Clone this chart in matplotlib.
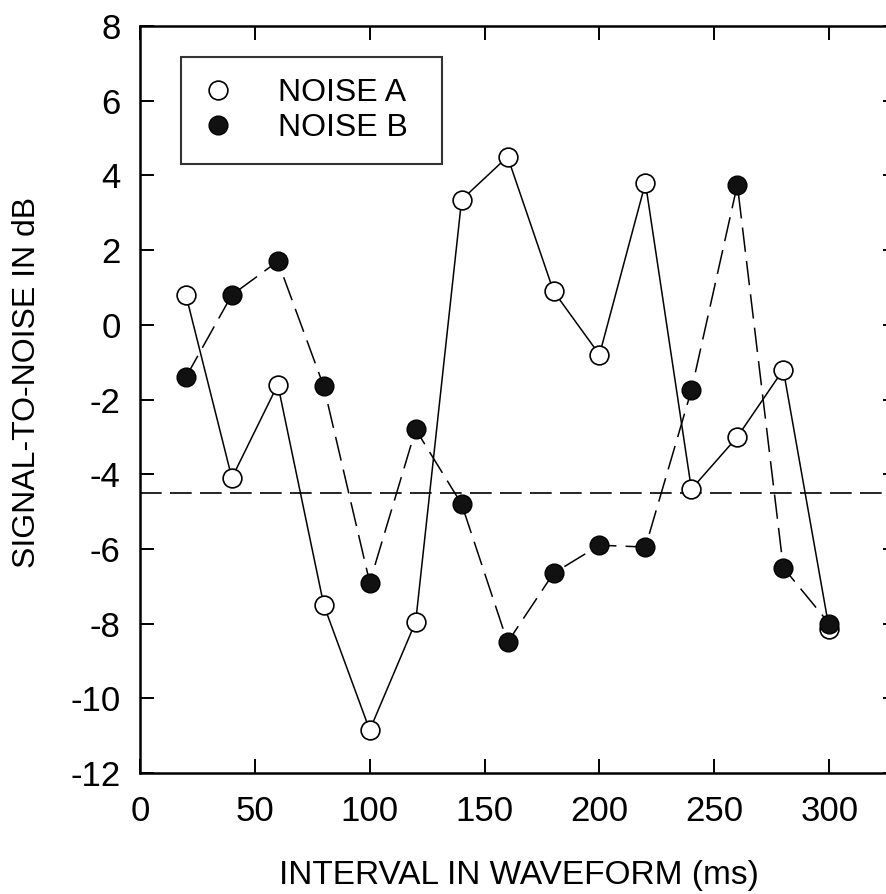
import matplotlib
matplotlib.use("Agg")
import matplotlib.pyplot as plt

# interval positions (ms) and SNR values (dB)
interval = [20, 40, 60, 80, 100, 120, 140, 160, 180, 200, 220, 240, 260, 280, 300]
noise_a = [0.8, -4.1, -1.6, -7.5, -10.85, -7.95, 3.35, 4.5, 0.9, -0.8, 3.8, -4.4, -3.0, -1.2, -8.15]
noise_b = [-1.4, 0.8, 1.7, -1.65, -6.9, -2.8, -4.8, -8.5, -6.65, -5.9, -5.95, -1.75, 3.75, -6.5, -8.0]
threshold = -4.5

xticks = [0, 50, 100, 150, 200, 250, 300]
yticks = list(range(-12, 9, 2))

plt.rcParams['font.family'] = ['Liberation Sans', 'DejaVu Sans']
plt.rcParams['axes.unicode_minus'] = False

fig = plt.figure(figsize=(8.87, 8.94), dpi=100)
# right spine falls just outside the picture, as in the scanned original
ax = fig.add_axes([0.1578, 0.1353, 0.8535, 0.8356])

ax.axhline(threshold, color='black', lw=1.2, dashes=(13, 5))

ax.plot(interval, noise_a, color='black', lw=1.1, marker='o', ms=13.5,
        mfc='white', mec='black', mew=1.2, label='NOISE A', zorder=3)
ax.plot(interval, noise_b, color='black', lw=1.1, dashes=(16, 6), marker='o', ms=13.5,
        mfc='#111111', mec='black', mew=1.0, label='NOISE B', zorder=3)

ax.set_xlim(0, 329.5)
ax.set_ylim(-12, 8)
ax.set_xticks(xticks)
ax.set_yticks(yticks)
ax.tick_params(direction='in', length=10, width=1.4, top=True, right=True,
               labelsize=25, pad=14)
ax.tick_params(axis='x', pad=16)
for s in ax.spines.values():
    s.set_linewidth(1.8)

ax.set_xlabel('INTERVAL IN WAVEFORM (ms)', fontsize=24, labelpad=23)
fig.text(27.5 / 887, 1 - 382 / 894, 'SIGNAL-TO-NOISE IN dB', rotation=90,
         ha='center', va='center', fontsize=23)

leg = ax.legend(loc='upper left', bbox_to_anchor=(0.054, 0.5, 0.345, 0.458),
                mode='expand', borderaxespad=0, fontsize=23, frameon=True,
                fancybox=False, borderpad=0.65, labelspacing=0.15,
                handlelength=1.0, handletextpad=1.4, numpoints=1)
leg.get_frame().set_edgecolor('black')
leg.get_frame().set_linewidth(1.5)
for h in leg.legend_handles:
    h.set_linestyle('none')

fig.savefig('out.png', dpi=100)
